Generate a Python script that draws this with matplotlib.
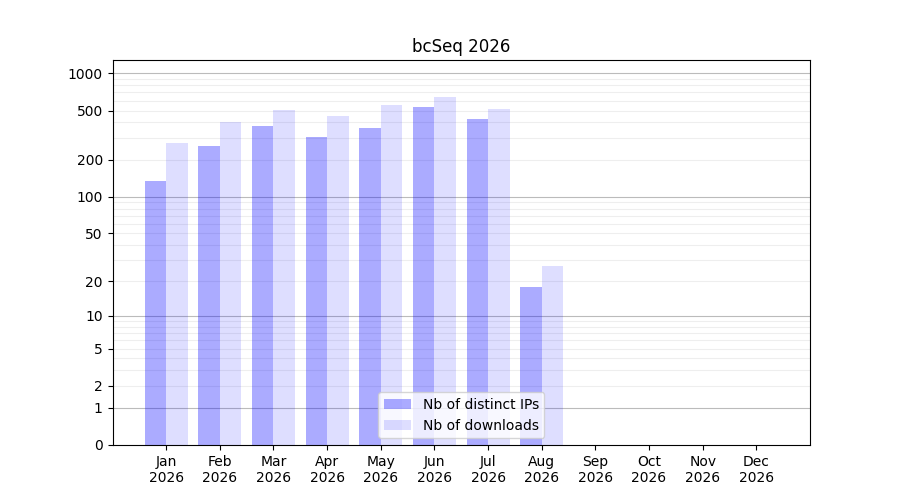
import numpy as np
import matplotlib
matplotlib.use("Agg")
import matplotlib.pyplot as plt

title = "bcSeq 2026"
months = ["Jan", "Feb", "Mar", "Apr", "May", "Jun",
          "Jul", "Aug", "Sep", "Oct", "Nov", "Dec"]
year = "2026"
distinct_ips = [134, 257, 373, 304, 359, 531, 425, 18, 0, 0, 0, 0]
downloads = [271, 402, 503, 449, 551, 640, 512, 27, 0, 0, 0, 0]
ytick_values = [0, 1, 2, 5, 10, 20, 50, 100, 200, 500, 1000]


def fwd(v):
    return np.log10(1 + np.clip(v, 0, None))


def inv(v):
    return 10 ** v - 1


fig, ax = plt.subplots(figsize=(9, 5), dpi=100)
x = np.arange(len(months))

ax.set_yscale("function", functions=(fwd, inv))

# grid: darker at decades, light for the rest
for dec in [1, 10, 100, 1000]:
    ax.axhline(dec, color="#bbbbbb", lw=0.8, zorder=0)
    if dec < 1000:
        for k in range(2, 10):
            ax.axhline(dec * k, color="#eeeeee", lw=0.8, zorder=0)

ax.bar(x, distinct_ips, width=-0.4, align="edge", color="blue", alpha=0.33,
       label="Nb of distinct IPs", zorder=1)
ax.bar(x, downloads, width=0.4, align="edge", color="blue", alpha=0.13,
       label="Nb of downloads", zorder=1)

ax.set_xticks(x)
ax.set_xticklabels([f"{m}\n{year}" for m in months])
ax.set_xlim(-1, len(months))
ax.set_ylim(0, max(downloads) * 2)
ax.set_yticks(ytick_values)
ax.set_yticklabels([str(v) for v in ytick_values])
ax.minorticks_off()
ax.set_title(title)
ax.legend(loc="lower center")

plt.savefig("out.png", dpi=100)
